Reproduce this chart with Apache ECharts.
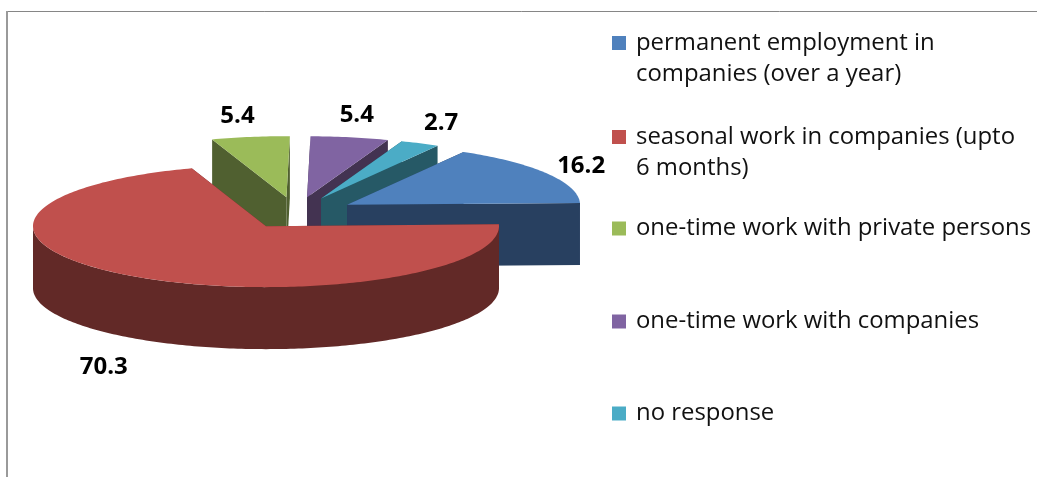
<!DOCTYPE html>
<html><head><meta charset="utf-8">
<style>html,body{margin:0;padding:0;background:#fff}#c{width:1037px;height:477px}</style>
<script src="https://cdn.jsdelivr.net/npm/echarts@6/dist/echarts.min.js"></script>
</head><body><div id="c"></div>
<script>
// ---- data ----
const categories = [
  'permanent employment in\ncompanies (over a year)',
  'seasonal work in companies (upto\n6 months)',
  'one-time work with private persons',
  'one-time work with companies',
  'no response'
];
const values = [16.2, 70.3, 5.4, 5.4, 2.7];

// ---- styles & layout ----
const topColors  = ['#4F81BD', '#C0504D', '#9BBB59', '#8064A2', '#4BACC6'];
const wallColors = ['#284060', '#622927', '#506030', '#433351', '#265966'];
const drawOrder  = [4, 5, 1, 2, 3];
const legendTops = [-3.5, 90.5, 213, 306, 398];
const legendFont = {fontFamily: 'Open Sans', fontSize: 23.9, color: '#111', lineHeight: 31};
const labelFont  = '700 24px "Open Sans"';
const labelShift = [[34, -7], [-29, 91], [-13, -21], [7, -22], [21, -20]];
const explodeNudge = [0, 0, -3.2, -1.7, -1.4];
const cx = 298.4, cy = 213, rx = 233, ry = 61, depth = 62, kx = 56.7, ky = 16;
const startAngle = -60;

const total = values.reduce((a, b) => a + b, 0);
const rad = d => d * Math.PI / 180;
let acc = startAngle;
const spans = values.map(v => { const a = acc; acc += v / total * 360; return [a, acc]; });

function rim(x, y, a, b) {
  const pts = [], n = Math.max(2, Math.ceil(b - a));
  for (let i = 0; i <= n; i++) {
    const t = rad(a + (b - a) * i / n);
    pts.push([x + rx * Math.cos(t), y + ry * Math.sin(t)]);
  }
  return pts;
}
function poly(points, fill) { return {type: 'polygon', shape: {points}, style: {fill}}; }

function renderSlice(idx) {
  return function (params, api) {
    const value = api.value(0);
    const [a, b] = spans[idx];
    const m = rad((a + b) / 2);
    const x = cx + kx * Math.cos(m) + explodeNudge[idx], y = cy + ky * Math.sin(m);
    const children = [];
    // radial walls
    [a, b].forEach(t => {
      const p = [x + rx * Math.cos(rad(t)), y + ry * Math.sin(rad(t))];
      children.push(poly([[x, y], p, [p[0], p[1] + depth], [x, y + depth]], wallColors[idx]));
    });
    // outer curved wall (front half only)
    const lo = Math.max(a, 0), hi = Math.min(b, 180);
    if (hi > lo) {
      const top = rim(x, y, lo, hi);
      const bot = top.map(p => [p[0], p[1] + depth]).reverse();
      children.push(poly(top.concat(bot), wallColors[idx]));
    }
    // top face
    children.push(poly([[x, y]].concat(rim(x, y, a, b)), topColors[idx]));
    // value label
    const lx = x + rx * Math.cos(m) + labelShift[idx][0];
    const ly = y + ry * Math.sin(m) + labelShift[idx][1];
    children.push({type: 'text', z2: 10, style: {
      text: String(value), x: lx, y: ly, align: 'center', verticalAlign: 'middle',
      font: labelFont, fill: '#000'
    }});
    return {type: 'group', children};
  };
}

const chart = echarts.init(document.getElementById('c'), null, {renderer: 'canvas'});
chart.setOption({
  animation: false,
  backgroundColor: '#fff',
  graphic: [
    {type: 'line', shape: {x1: 6.5, y1: 11.5, x2: 1037, y2: 11.5}, style: {stroke: '#868686', lineWidth: 1}},
    {type: 'line', shape: {x1: 7, y1: 11, x2: 7, y2: 477}, style: {stroke: '#9a9a9a', lineWidth: 2}}
  ],
  legend: categories.map((name, i) => ({
    data: [name], left: 612, top: legendTops[i], padding: 0, orient: 'vertical',
    icon: 'rect', itemWidth: 14, itemHeight: 14, selectedMode: false,
    // a leading blank line centres the marker on the first text line
    formatter: n => (n.indexOf('\n') >= 0 ? '\n' + n : n),
    textStyle: Object.assign({}, legendFont, {padding: [0, 0, 0, 5]})
  })),
  series: categories.map((name, i) => ({
    type: 'custom', name, coordinateSystem: 'none', z: drawOrder[i],
    itemStyle: {color: topColors[i]}, silent: true,
    data: [[values[i]]], renderItem: renderSlice(i)
  }))
});
</script></body></html>
